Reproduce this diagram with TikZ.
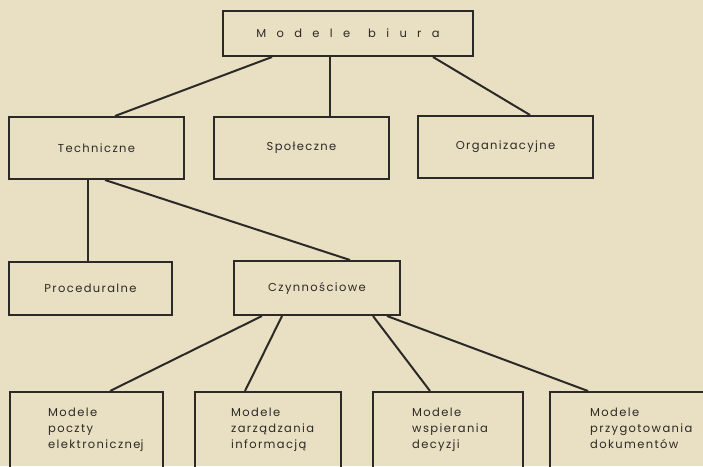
\documentclass[tikz,border=0pt]{standalone}
\usepackage{fontspec}
\setmainfont[LetterSpace=12]{Poppins}
\newfontfamily\widefont[LetterSpace=90]{Poppins}
\definecolor{paper}{HTML}{E9DFC3}
\definecolor{ink}{HTML}{2C2A26}
\begin{document}
\begin{tikzpicture}[x=1pt,y=-1pt,
  box/.style={draw=ink,line width=2pt,rectangle,inner sep=0pt,text=ink,font=\fontsize{11.5}{13}\selectfont},
  link/.style={draw=ink,line width=2pt},
  lbl/.style={text=ink,font=\fontsize{11.5}{16}\selectfont,align=left,anchor=north west,inner sep=0pt}]
\useasboundingbox (0,0) rectangle (703,466);
\fill[paper] (0,0) rectangle (703,466);
\clip (0,0) rectangle (703,466);
\node[box,minimum width=250pt,minimum height=45pt] (mb) at (348,33.5) {\widefont Modele\hspace{18pt}biura};
\node[box,minimum width=175pt,minimum height=62pt] (tech) at (96.5,148) {Techniczne\hspace{20pt}};
\node[box,minimum width=175pt,minimum height=62pt] (spol) at (301.5,148) {Społeczne\hspace{40pt}};
\node[box,minimum width=175pt,minimum height=62pt] (org) at (505.5,147) {Organizacyjne};
\node[box,minimum width=163pt,minimum height=53pt] (proc) at (90.5,288.5) {Proceduralne};
\node[box,minimum width=166pt,minimum height=54pt] (czyn) at (317,288) {Czynnościowe};
\node[box,minimum width=153pt,minimum height=88pt] (b1) at (86.5,436) {};
\node[box,minimum width=146pt,minimum height=88pt] (b2) at (268,436) {};
\node[box,minimum width=150pt,minimum height=88pt] (b3) at (448,436) {};
\node[box,minimum width=170pt,minimum height=88pt] (b4) at (635,436) {};
\node[lbl] (t1) at (48,408) {Modele\\poczty\\elektroniczne\rlap{j}};
\node[lbl] (t2) at (231,408) {Modele\\zarządzania\\informacją};
\node[lbl] (t3) at (412,408) {Modele\\wspierania\\decyzji};
\node[lbl] (t4) at (590,408) {Modele\\przygotowania\\dokumentów};
\draw[link] ([xshift=-76pt]mb.south) -- ([xshift=18.5pt]tech.north);
\draw[link] ([xshift=-18pt]mb.south) -- ([xshift=28.5pt]spol.north);
\draw[link] ([xshift=85pt]mb.south) -- ([xshift=24.5pt]org.north);
\draw[link] ([xshift=-8.5pt]tech.south) -- ([xshift=-2.5pt]proc.north);
\draw[link] ([xshift=8.5pt]tech.south) -- ([xshift=33pt]czyn.north);
\draw[link] ([xshift=-55pt]czyn.south) -- ([xshift=23.5pt]b1.north);
\draw[link] ([xshift=-35pt]czyn.south) -- ([xshift=-23pt]b2.north);
\draw[link] ([xshift=56pt]czyn.south) -- ([xshift=-18pt]b3.north);
\draw[link] ([xshift=70pt]czyn.south) -- ([xshift=-47pt]b4.north);
\end{tikzpicture}
\end{document}
